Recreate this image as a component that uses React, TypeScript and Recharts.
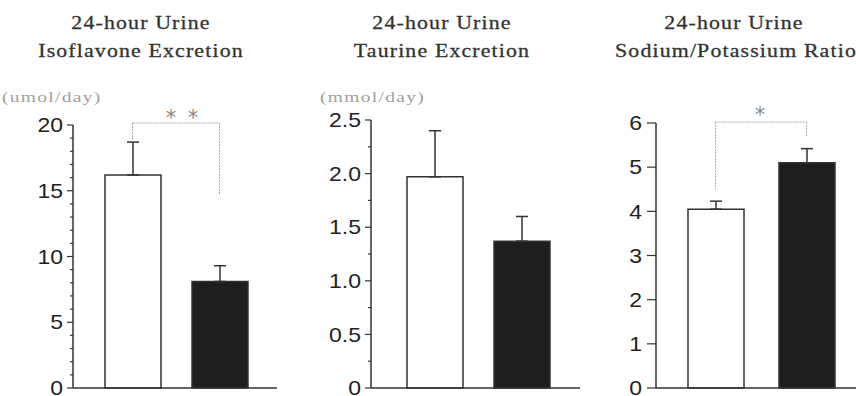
import { BarChart, Bar, Cell, XAxis, YAxis, ErrorBar, ReferenceLine } from "recharts";

// groups (unlabelled in the figure): white bar, black bar
const groups = ["A", "B"];

const isoMean = [16.2, 8.1];
const isoErr = [2.5, 1.2];
const isoTicks = [0, 1, 2, 3, 4, 5, 6, 7, 8, 9, 10, 11, 12, 13, 14, 15, 16, 17, 18, 19, 20];
const isoLabels = [0, 5, 10, 15, 20];

const taurineMean = [1.97, 1.37];
const taurineErr = [0.43, 0.23];
const taurineTicks = [0, 0.25, 0.5, 0.75, 1, 1.25, 1.5, 1.75, 2, 2.25, 2.5];
const taurineLabels = [0, 0.5, 1, 1.5, 2, 2.5];

const ratioMean = [4.05, 5.1];
const ratioErr = [0.18, 0.32];
const ratioTicks = [0, 1, 2, 3, 4, 5, 6];
const ratioLabels = [0, 1, 2, 3, 4, 5, 6];

const barColors = ["#ffffff", "#1e1e1e"];
const ink = "#333";

const toRows = (mean: number[], err: number[]) =>
  groups.map((g, i) => ({ name: g, value: mean[i], err: [0, err[i]] }));

const makeTick =
  (labels: number[], fmt: (v: number) => string, majorLen: number, minorLen: number, gap: number) =>
  (props: any) => {
    const { x, y, payload } = props;
    const v = payload.value;
    const major = labels.includes(v);
    const len = major ? majorLen : minorLen;
    return (
      <g>
        <line x1={x - len} x2={x} y1={y} y2={y} stroke={ink} strokeWidth={1.2} />
        {major && (
          <text
            x={0}
            y={0}
            transform={`translate(${x - len - gap},${y}) scale(1.15,1)`}
            dy="0.36em"
            textAnchor="end"
            fontFamily="Liberation Sans, Arial, sans-serif"
            fontSize={20}
            fill="#222"
          >
            {fmt(v)}
          </text>
        )}
      </g>
    );
  };

interface PanelProps {
  left: number;
  width: number;
  top: number;
  axisWidth: number;
  right: number;
  padL: number;
  padR: number;
  rows: any[];
  max: number;
  ticks: number[];
  tick: any;
  bracket?: { top: number; leftEnd: number; rightEnd: number };
}

const Panel = ({ left, width, top, axisWidth, right, padL, padR, rows, max, ticks, tick, bracket }: PanelProps) => (
  <div style={{ position: "absolute", left, top: 0 }}>
    <BarChart width={width} height={396} data={rows} margin={{ top, right, bottom: 0, left: 0 }}>
      <XAxis
        dataKey="name"
        tick={false}
        tickLine={false}
        height={8}
        padding={{ left: padL, right: padR }}
        axisLine={{ stroke: ink, strokeWidth: 1.5 }}
      />
      <YAxis
        type="number"
        domain={[0, max]}
        ticks={ticks}
        interval={0}
        width={axisWidth}
        tickLine={false}
        tickSize={0}
        tickMargin={0}
        tick={tick}
        axisLine={{ stroke: ink, strokeWidth: 1.5 }}
      />
      <Bar dataKey="value" barSize={56} stroke={ink} strokeWidth={1.5} isAnimationActive={false}>
        {rows.map((_, i) => (
          <Cell key={i} fill={barColors[i]} />
        ))}
        <ErrorBar dataKey="err" width={6} stroke={ink} strokeWidth={1.5} direction="y" />
      </Bar>
      {bracket && (
        <>
          <ReferenceLine
            segment={[{ x: "A", y: bracket.top }, { x: "B", y: bracket.top }]}
            stroke="#aaa"
            strokeDasharray="2 1"
            ifOverflow="visible"
          />
          <ReferenceLine
            segment={[{ x: "A", y: bracket.top }, { x: "A", y: bracket.leftEnd }]}
            stroke="#aaa"
            strokeDasharray="2 1"
            ifOverflow="visible"
          />
          <ReferenceLine
            segment={[{ x: "B", y: bracket.top }, { x: "B", y: bracket.rightEnd }]}
            stroke="#aaa"
            strokeDasharray="2 1"
            ifOverflow="visible"
          />
        </>
      )}
    </BarChart>
  </div>
);

const serif = "Liberation Serif, Times New Roman, serif";
const titleStyle = { fontFamily: serif, fontSize: 19, letterSpacing: 1, fill: "#333", stroke: "#333", strokeWidth: 0.3 };
const unitStyle = { fontFamily: serif, fontSize: 15, letterSpacing: 1, fill: "#a0a0a0" };
const starStyle = { fontFamily: "DejaVu Sans, sans-serif", fontSize: 21, fill: "#888" };

const Title = ({ x, y, text }: { x: number; y: number; text: string }) => (
  <text x={0} y={0} transform={`translate(${x},${y}) scale(1.15,1)`} textAnchor="middle" style={titleStyle}>
    {text}
  </text>
);

export default function App() {
  return (
    <div style={{ position: "absolute", left: 0, top: 0, width: 856, height: 396, background: "#fff", overflow: "hidden" }}>
      <Panel
        left={0}
        width={290}
        top={125}
        axisWidth={73}
        right={13}
        padL={16}
        padR={14}
        rows={toRows(isoMean, isoErr)}
        max={20}
        ticks={isoTicks}
        tick={makeTick(isoLabels, (v) => String(v), 6, 3, 4)}
        bracket={{ top: 20.15, leftEnd: 18.8, rightEnd: 14.7 }}
      />
      <Panel
        left={290}
        width={290}
        top={120}
        axisWidth={81}
        right={0}
        padL={20}
        padR={15}
        rows={toRows(taurineMean, taurineErr)}
        max={2.5}
        ticks={taurineTicks}
        tick={makeTick(taurineLabels, (v) => (v === 0 ? "0" : v.toFixed(1)), 6, 3, 4)}
      />
      <Panel
        left={580}
        width={276}
        top={123}
        axisWidth={76}
        right={0}
        padL={14}
        padR={4}
        rows={toRows(ratioMean, ratioErr)}
        max={6}
        ticks={ratioTicks}
        tick={makeTick(ratioLabels, (v) => String(v), 9, 9, 5)}
        bracket={{ top: 6.02, leftEnd: 4.5, rightEnd: 5.7 }}
      />
      <svg width={856} height={396} style={{ position: "absolute", left: 0, top: 0, pointerEvents: "none" }}>
        <Title x={141} y={29} text="24-hour Urine" />
        <Title x={141} y={57} text="Isoflavone Excretion" />
        <Title x={442} y={29} text="24-hour Urine" />
        <Title x={442} y={57} text="Taurine Excretion" />
        <Title x={734} y={29} text="24-hour Urine" />
        <Title x={736} y={57} text="Sodium/Potassium Ratio" />
        <text x={0} y={0} transform="translate(2,102) scale(1.3,1)" style={unitStyle}>(umol/day)</text>
        <text x={0} y={0} transform="translate(320,102) scale(1.3,1)" style={unitStyle}>(mmol/day)</text>
        <text x={171} y={125} textAnchor="middle" style={starStyle}>*</text>
        <text x={193} y={125} textAnchor="middle" style={starStyle}>*</text>
        <text x={760} y={122} textAnchor="middle" style={starStyle}>*</text>
      </svg>
    </div>
  );
}
